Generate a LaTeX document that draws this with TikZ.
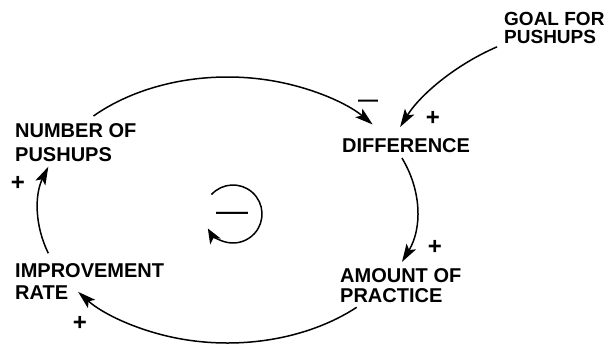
\documentclass[tikz,border=0pt]{standalone}
\usepackage{fontspec}
\setmainfont{Liberation Sans}
\usetikzlibrary{arrows.meta}
\begin{document}
\begin{tikzpicture}[x=1pt,y=-1pt,
  lbl/.style={inner sep=0pt, anchor=north west, align=left},
  sgn/.style={font=\fontsize{24}{26}\selectfont\bfseries, inner sep=0pt},
  link/.style={line width=1.5pt, -{Stealth[length=18pt,width=11pt,inset=4pt]}},
  looplink/.style={line width=1.5pt, -{Stealth[length=15pt,width=12pt,inset=4pt]}}]
\useasboundingbox (0,0) rectangle (615,343);

% variables
\node[lbl, font=\fontsize{19}{18}\selectfont\bfseries] (goal) at (504,12) {GOAL FOR\\PUSHUPS};
\node[lbl, font=\fontsize{20}{24}\selectfont\bfseries] (num) at (15,123) {NUMBER OF\\PUSHUPS};
\node[lbl, font=\fontsize{20}{24}\selectfont\bfseries] (diff) at (342,138) {DIFFERENCE};
\node[lbl, font=\fontsize{20}{22}\selectfont\bfseries] (imp) at (15,263) {IMPROVEMENT\\RATE};
\node[lbl, font=\fontsize{20}{20}\selectfont\bfseries] (amt) at (340,268) {AMOUNT OF\\PRACTICE};

% loop centre
\coordinate (ctr) at (227.5,210);
\coordinate (num-out) at ([shift={(-135:189.5 and 133)}]ctr);
\coordinate (diff-out) at ([shift={(-23:189.5 and 133)}]ctr);
\coordinate (amt-out) at ([shift={(47:189.5 and 133)}]ctr);
\coordinate (imp-out) at ([shift={(161:189.5 and 133)}]ctr);
\coordinate (goal-out) at ([xshift=-7pt,yshift=-3pt]goal.south west);
\coordinate (diff-in) at ([xshift=-6pt,yshift=11pt]diff.north);

% connectors
\draw[link] (num-out) arc[start angle=-135, end angle=-40, x radius=189.5, y radius=133];
\draw[link] (diff-out) arc[start angle=-23, end angle=23, x radius=189.5, y radius=133];
\draw[link] (amt-out) arc[start angle=47, end angle=142, x radius=189.5, y radius=133];
\draw[link] (imp-out) arc[start angle=161, end angle=199, x radius=189.5, y radius=133];
\draw[link] (goal-out) .. controls (455,65) and (420,95) .. (diff-in);

% polarity signs
\node[sgn] (p-goal) at (433,118) {+};
\node[sgn, font=\fontsize{20}{24}\selectfont\bfseries] (m-num) at (368,103) {\textemdash};
\node[sgn] (p-diff) at (435,247) {+};
\node[sgn] (p-amt) at (80,323) {+};
\node[sgn] (p-imp) at (18,183) {+};

% loop symbol
\coordinate (lc) at (233,214);
\node[inner sep=0pt, font=\fontsize{32}{36}\selectfont] (loop) at (232,217) {\textemdash};
\draw[looplink] ([shift={(-138:29)}]lc) arc[start angle=-138, end angle=150, radius=29];
\end{tikzpicture}
\end{document}
